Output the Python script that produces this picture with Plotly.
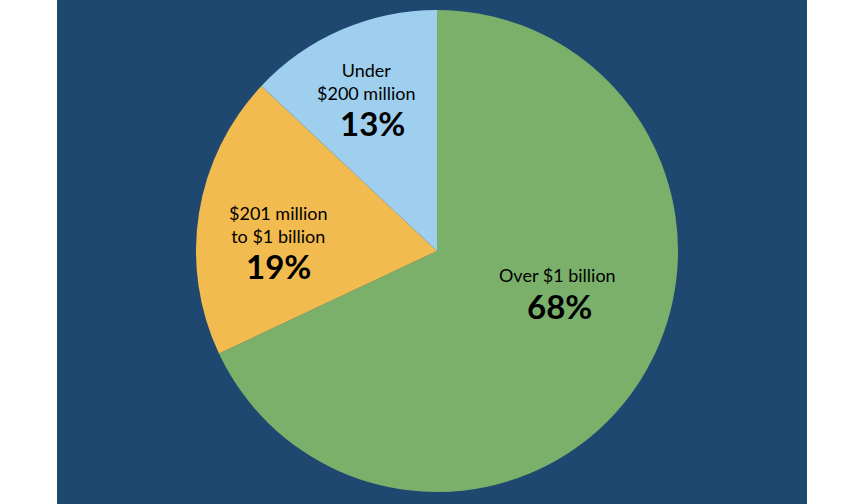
import plotly.graph_objects as go

# share of total by size bracket
labels = ["Over $1 billion", "$201 million<br>to $1 billion", "Under<br>$200 million"]
shares = [68, 19, 13]
colors = ["#7ab06a", "#f2bb4f", "#9ecfee"]

navy = "#1f4871"
W, H = 864, 504

fig = go.Figure(go.Pie(
    labels=labels,
    values=shares,
    sort=False,
    direction="clockwise",
    rotation=0,
    marker=dict(colors=colors, line=dict(width=0)),
    textinfo="none",
    hoverinfo="label+percent",
    domain=dict(x=[196 / W, 678 / W], y=[12 / H, 494 / H]),
    showlegend=False,
))

# hand placed label spots inside each slice (pixels): label centre, percent centre
label_xy = [(557, 275), (278, 224), (366, 82)]
pct_xy = [(559, 306), (278, 266), (372, 123)]

annotations = []
for lab, v, (lx, ly), (px, py) in zip(labels, shares, label_xy, pct_xy):
    annotations.append(dict(text=lab, x=lx / W, y=1 - ly / H, xref="paper", yref="paper",
                            showarrow=False, xanchor="center", yanchor="middle",
                            font=dict(family="Lato", size=18, color="black")))
    annotations.append(dict(text=f"<b>{v}%</b>", x=px / W, y=1 - py / H, xref="paper", yref="paper",
                            showarrow=False, xanchor="center", yanchor="middle",
                            font=dict(family="Lato", size=33, color="black")))

fig.update_layout(
    width=W,
    height=H,
    margin=dict(l=0, r=0, t=0, b=0),
    paper_bgcolor="white",
    annotations=annotations,
    shapes=[dict(type="rect", xref="paper", yref="paper",
                 x0=57 / W, x1=807 / W, y0=0, y1=1,
                 fillcolor=navy, line=dict(width=0), layer="below")],
)

fig.write_html("out.html", config={"displayModeBar": False},
               post_script="document.body.style.margin='0';")
